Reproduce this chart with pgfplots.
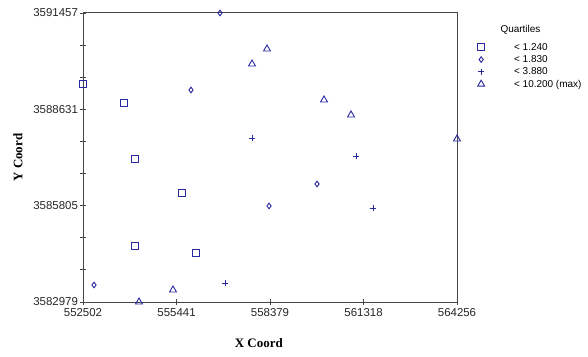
\documentclass[border=0pt]{standalone}
\usepackage{fontspec}
\setmainfont{Liberation Sans}
\newfontfamily\serifb{Liberation Serif}
\usepackage{pgfplots}
\pgfplotsset{compat=1.18}
\definecolor{mk}{RGB}{40,40,160}
\definecolor{ax}{RGB}{70,70,70}
\begin{document}
\begin{tikzpicture}[x=1bp,y=1bp]
\path[use as bounding box] (0,0) rectangle (588,356);
\begin{axis}[
  at={(83bp,54bp)}, anchor=south west,
  scale only axis, width=374bp, height=289bp,
  xmin=552502, xmax=564256, ymin=3582979, ymax=3591457,
  xtick={552502,555441,558379,561318,564256},
  ytick={3582979,3585805,3588631,3591457},
  xticklabels={552502,555441,558379,561318,564256},
  yticklabels={3582979,3585805,3588631,3591457},
  minor tick num=2,
  tick align=center,
  major tick length=6bp, minor tick length=6bp,
  tick pos=left,
  axis line style={ax, line width=1bp},
  every tick/.style={ax, line width=0.8bp},
  ticklabel style={font=\fontsize{11.5}{13}\selectfont, text=black!85},
  yticklabel style={xshift=1.5bp},
  scaled ticks=false,
  clip=false,
  xlabel={X Coord}, ylabel={Y Coord},
  label style={font=\serifb\bfseries\fontsize{13}{15}\selectfont},
  xlabel style={at={(axis description cs:0.47,-0.142)}, anchor=center},
  ylabel style={at={(axis description cs:-0.174,0.5)}, anchor=center, rotate=0},
  legend style={at={(axis description cs:1.048,0.9)}, anchor=north west, draw=none, fill=none,
    font=\fontsize{10}{12}\selectfont, inner sep=0pt, row sep=2bp,
    nodes={inner sep=1bp, text height=7bp, text depth=1.3bp}},
  legend cell align=left,
  legend image code/.code={\path[draw=none,fill=none] (0bp,0bp) -- (38bp,0bp); \draw[#1] plot[only marks] coordinates {(6bp,0bp)};},
]
\addplot[only marks, mark=square, mark size=3.3bp, mk, line width=0.9bp] coordinates {
(552502,3589375) (553791,3588818) (554136,3587175) (555614,3586177) (554136,3584622) (556054,3584417)};
\addlegendentry{< 1.240}
\addplot[only marks, mark=diamond, mark size=2.8bp, mk, line width=0.9bp] coordinates {
(556808,3591457) (555896,3589199) (558348,3585796) (559857,3586441) (552848,3583478)};
\addlegendentry{< 1.830}
\addplot[only marks, mark=+, mark size=3.3bp, mk, line width=0.85bp] coordinates {
(557814,3587791) (561083,3587263) (561617,3585737) (556965,3583536)};
\addlegendentry{< 3.880}
\addplot[only marks, mark=triangle, mark size=4bp, mk, line width=0.9bp] coordinates {
(558285,3590402) (557814,3589962) (560077,3588906) (560925,3588466) (564256,3587761) (555331,3583331) (554262,3582979)};
\addlegendentry{< 10.200 (max)}
\end{axis}
\node[anchor=west, font=\fontsize{10}{12}\selectfont] at (497,326) {Quartiles};
\end{tikzpicture}
\end{document}
